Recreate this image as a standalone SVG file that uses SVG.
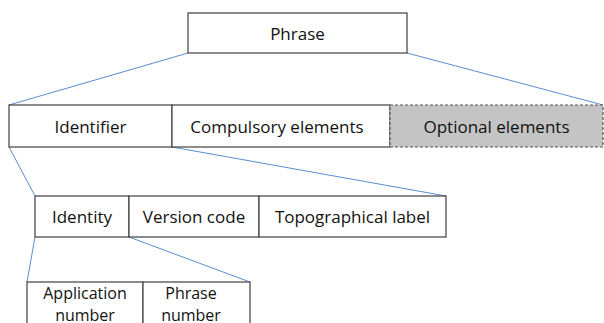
<svg xmlns="http://www.w3.org/2000/svg" width="604" height="323" viewBox="0 0 604 323">
  <style>
    .box { fill: #ffffff; stroke: #404040; stroke-width: 1.2; }
    .opt { fill: #c4c4c4; stroke: #555555; stroke-width: 1.2; stroke-dasharray: 3 2; }
    .lbl { font-family: "Open Sans", "Liberation Sans", sans-serif; font-size: 17px; fill: #111111; text-anchor: middle; dominant-baseline: central; }
    .sm { font-size: 16px; }
    .link { stroke: #5b8dd0; stroke-width: 1; fill: none; }
  </style>
  <rect width="604" height="323" fill="#ffffff"/>

  <!-- connectors fanning out from each expanded element -->
  <g id="connectors">
    <line class="link" x1="188" y1="53" x2="9" y2="105"/>
    <line class="link" x1="407" y1="53" x2="603" y2="105"/>
    <line class="link" x1="9" y1="147" x2="35" y2="196"/>
    <line class="link" x1="172" y1="147" x2="446" y2="196"/>
    <line class="link" x1="35" y1="237" x2="27" y2="282"/>
    <line class="link" x1="129" y1="237" x2="250" y2="282"/>
  </g>

  <g id="phrase">
    <rect class="box" x="188" y="13" width="219" height="40"/>
    <text class="lbl" x="297.5" y="33">Phrase</text>
  </g>

  <g id="identifier">
    <rect class="box" x="9" y="105" width="163" height="42"/>
    <text class="lbl" x="90.5" y="126">Identifier</text>
  </g>
  <g id="compulsory">
    <rect class="box" x="172" y="105" width="218" height="42"/>
    <text class="lbl" x="277" y="126">Compulsory elements</text>
  </g>
  <g id="optional">
    <rect class="opt" x="390" y="105" width="213" height="42"/>
    <text class="lbl" x="496.5" y="126">Optional elements</text>
  </g>

  <g id="identity">
    <rect class="box" x="35" y="196" width="94" height="41"/>
    <text class="lbl" x="82" y="216.5">Identity</text>
  </g>
  <g id="version">
    <rect class="box" x="129" y="196" width="130" height="41"/>
    <text class="lbl" x="194" y="216.5">Version code</text>
  </g>
  <g id="topographical">
    <rect class="box" x="259" y="196" width="187" height="41"/>
    <text class="lbl" x="352.5" y="216.5">Topographical label</text>
  </g>

  <g id="application">
    <rect class="box" x="27" y="282" width="116" height="60"/>
    <text class="lbl sm" x="85" y="293">Application</text>
    <text class="lbl sm" x="85" y="315">number</text>
  </g>
  <g id="phrase-number">
    <rect class="box" x="143" y="282" width="107" height="60"/>
    <text class="lbl sm" x="191" y="293">Phrase</text>
    <text class="lbl sm" x="191" y="315">number</text>
  </g>
</svg>
